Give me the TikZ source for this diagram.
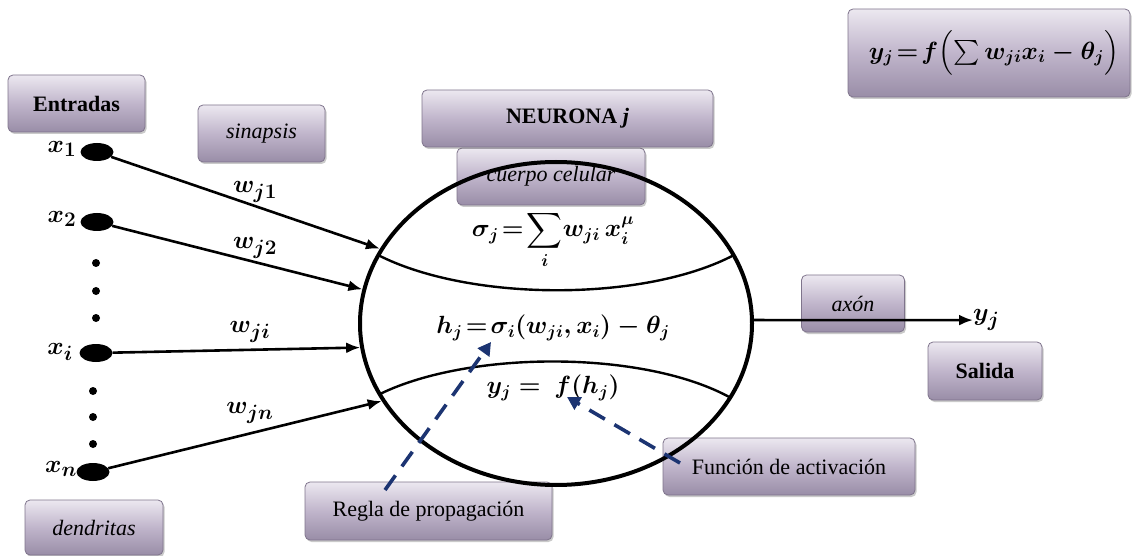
\documentclass[tikz,border=0pt]{standalone}
\usepackage{fontspec}
\setmainfont{Liberation Serif}
\usepackage{amsmath}
\usetikzlibrary{shapes.geometric,arrows.meta,shadows}
\definecolor{boxtop}{HTML}{ECE8F0}
\definecolor{boxmid}{HTML}{C0B5CB}
\definecolor{boxbot}{HTML}{998DA7}
\definecolor{boxedge}{HTML}{7F748C}
\definecolor{navy}{HTML}{1C3472}
\begin{document}
\begin{tikzpicture}[x=1pt,y=-1pt,
  lbl/.style={rounded corners=5pt, draw=boxedge, line width=0.8pt,
    top color=boxtop, bottom color=boxbot, middle color=boxmid,
    drop shadow={shadow xshift=1.5pt, shadow yshift=-2pt, fill=black!60, opacity=0.35},
    inner sep=0pt, font=\fontsize{22}{26}\selectfont},
  mth/.style={inner sep=0pt, font=\fontsize{28}{32}\selectfont\boldmath},
  big/.style={inner sep=0pt, font=\fontsize{24}{28}\selectfont\boldmath},
  dot/.style={ellipse, fill=black, inner sep=0pt, minimum width=33pt, minimum height=18pt},
  sdot/.style={circle, fill=black, inner sep=0pt, minimum size=8pt},
  arr/.style={line width=2.6pt, -{Latex[length=14pt,width=11pt]}},
  dsh/.style={navy, line width=3.6pt, dash pattern=on 18pt off 11pt, -{Triangle[length=13pt,width=14pt]}},
  arc/.style={line width=2.4pt}]
\useasboundingbox (0,0) rectangle (1133,556);

% label boxes
\node[lbl, minimum width=137pt, minimum height=57pt] (entr) at (76.5,103.5) {\textbf{Entradas}};
\node[lbl, minimum width=127pt, minimum height=57pt] (sin) at (261.5,133.5) {\textit{sinapsis}};
\node[lbl, minimum width=188pt, minimum height=57pt] (cuer) at (551,176.5) {\textit{cuerpo celular}};
\node[lbl, minimum width=291pt, minimum height=57pt] (neur) at (567.5,118.5) {\textbf{NEURONA \textit{j}}};
\node[lbl, minimum width=138pt, minimum height=55pt] (dend) at (94,527.5) {\textit{dendritas}};
\node[lbl, minimum width=247pt, minimum height=58pt] (regla) at (428.5,511) {Regla de propagación};
\node[lbl, minimum width=252pt, minimum height=57pt] (func) at (789,466.5) {Función de activación};
\node[lbl, minimum width=103pt, minimum height=57pt] (axon) at (853,303.5) {\textit{axón}};
\node[lbl, minimum width=114pt, minimum height=58pt] (sal) at (985,371) {\textbf{Salida}};
\node[lbl, minimum width=282pt, minimum height=88pt, font=\fontsize{24}{28}\selectfont\boldmath] (form) at (989,53)
  {\hspace*{10pt}$y_j \!=\! f\Bigl(\sum w_{ji}x_i - \theta_j\Bigr)$};

% neuron body
\node[ellipse, draw, line width=4pt, inner sep=0pt, minimum width=392pt, minimum height=323pt] (cell) at (556,323.5) {};
\draw[arc] (378,255) .. controls (470,302) and (645,302) .. (734,255);
\draw[arc] (380,394) .. controls (470,350) and (645,350) .. (731,398);

\node[big] (sig) at (553,240) {$\sigma_j \!=\! \displaystyle\sum_i \! w_{ji}\, x_i^{\mu}$};
\node[big, font=\fontsize{23}{28}\selectfont\boldmath] (hj) at (553,328) {$h_j \!=\! \sigma_i(w_{ji}, x_i) - \theta_j$};
\node[big, font=\fontsize{23}{28}\selectfont\boldmath] (yf) at (553,388) {$y_j =\ f(h_j)$};

% inputs
\node[dot] (x1) at (97,152) {};
\node[dot] (x2) at (97,222) {};
\node[dot] (xi) at (96,353) {};
\node[dot] (xn) at (93,472) {};
\node[sdot] (d1) at (96,263) {};
\node[sdot] (d2) at (96,291) {};
\node[sdot] (d3) at (96,318) {};
\node[sdot] (d4) at (93,391) {};
\node[sdot] (d5) at (93,417) {};
\node[sdot] (d6) at (93,444) {};
\node[mth] (lx1) at (62,149) {$x_1$};
\node[mth] (lx2) at (62,219) {$x_2$};
\node[mth] (lxi) at (60,352) {$x_i$};
\node[mth] (lxn) at (61,469) {$x_n$};

\draw[arr] (x1) -- (cell.157.7);
\draw[arr] (x2) -- (cell.170.8);
\draw[arr] (xi) -- (cell.187.2);
\draw[arr] (xn) -- (cell.204.3);

\node[mth] (w1) at (255,192) {$w_{j1}$};
\node[mth] (w2) at (255,248) {$w_{j2}$};
\node[mth] (wi) at (250,332) {$w_{ji}$};
\node[mth] (wn) at (250,413) {$w_{jn}$};

% output
\node[mth, anchor=west] (yj) at (973,320.1) {$y_j$};
\draw[arr] (cell.1) -- (yj.west);

% dashed pointers
\coordinate (r1) at (385,490);
\coordinate (r1t) at (491,342);
\coordinate (f1) at (680,463);
\coordinate (f1t) at (567,397);
\draw[dsh] (r1) -- (r1t);
\draw[dsh] (f1) -- (f1t);
\end{tikzpicture}
\end{document}
